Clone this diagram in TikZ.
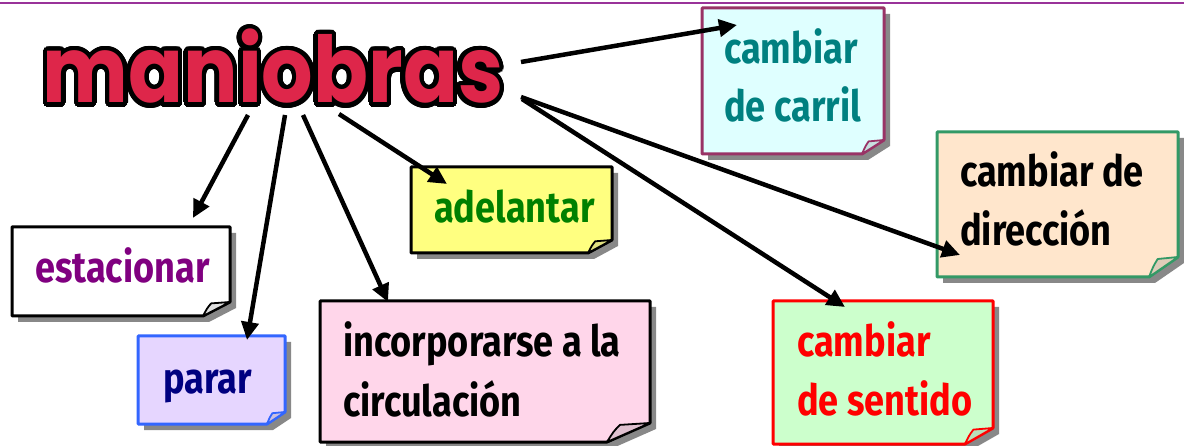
\documentclass[tikz,border=0pt]{standalone}
\usepackage{fontspec}
\usepackage{contour}
\usetikzlibrary{arrows.meta}
\newfontfamily\notefont{Fira Sans}[FakeStretch=0.84]
\newfontfamily\titlefont{Poppins}[FakeStretch=0.88]
\definecolor{topline}{HTML}{993399}
\definecolor{titlered}{HTML}{DE264A}
\definecolor{shadowgray}{HTML}{888888}
\definecolor{fcarril}{HTML}{DFFFFF}\definecolor{bcarril}{HTML}{993366}\definecolor{tcarril}{HTML}{008080}
\definecolor{fparar}{HTML}{E6D6FF}\definecolor{bparar}{HTML}{3366FF}\definecolor{tparar}{HTML}{000080}
\definecolor{fadel}{HTML}{FFFF80}\definecolor{tadel}{HTML}{008000}
\definecolor{finc}{HTML}{FFD6EA}
\definecolor{fdir}{HTML}{FFE6CC}\definecolor{bdir}{HTML}{339966}
\definecolor{fsen}{HTML}{CCFFCC}\definecolor{bsen}{HTML}{FF0000}
\definecolor{testa}{HTML}{800080}
% x1 y1 x2 y2 ch cv fill border
\newcommand\notebox[8]{%
  \fill[shadowgray] (#1+6,#2+6) -- (#3+6,#2+6) -- (#3+6,#4+6-#6) -- (#3+6-#5,#4+6) -- (#1+6,#4+6) -- cycle;
  \draw[line width=3pt,draw=#8,fill=#7,line join=round] (#1,#2) -- (#3,#2) -- (#3,#4-#6) -- (#3-#5,#4) -- (#1,#4) -- cycle;
  \draw[line width=1.8pt,draw=#8,fill=#7!75!gray,line join=round] (#3-#5,#4) .. controls (#3-#5+0.15*#5,#4-0.55*#6) .. (#3-0.7*#5,#4-0.9*#6) .. controls (#3-0.35*#5,#4-0.95*#6) .. (#3,#4-#6) -- cycle;
}
\tikzset{
  notetext/.style={anchor=base west,inner sep=0pt,font=\notefont\bfseries\fontsize{43}{50}\selectfont},
  conn/.style={line width=4.5pt,-{Triangle[length=18pt,width=17pt]}},
}
\begin{document}
\begin{tikzpicture}[x=1pt,y=-1pt]
\useasboundingbox (0,0) rectangle (1184,446);
\fill[white] (0,0) rectangle (1184,446);
\draw[topline,line width=2.2pt] (0,3) -- (1184,3);
% boxes
\notebox{702}{8}{884}{154}{22}{14}{fcarril}{bcarril}
\notebox{12}{227}{230}{316}{27}{14}{white}{black}
\notebox{138}{336}{285}{424}{18}{12}{fparar}{bparar}
\notebox{411}{167}{612}{253}{24}{13}{fadel}{black}
\notebox{320}{301}{650}{442}{43}{19}{finc}{black}
\notebox{937}{132}{1178}{277}{29}{20}{fdir}{bdir}
\notebox{773}{301}{993}{444}{28}{16}{fsen}{bsen}
% title
\contourlength{4.5pt}\contournumber{32}
\node[anchor=base,inner sep=0pt,text=titlered,font=\titlefont\bfseries\fontsize{92}{96}\selectfont] (title) at (273,103) {\contour{black}{maniobras}};
% texts
\node[notetext,text=tcarril] (carril1) at (724,64) {cambiar};
\node[notetext,text=tcarril] (carril2) at (724,122) {de carril};
\node[notetext,text=testa] (estac) at (35,283) {estacionar};
\node[notetext,text=tparar] (parar) at (163,393) {parar};
\node[notetext,text=tadel] (adel) at (434,223) {adelantar};
\node[notetext,text=black] (inc1) at (343,357) {incorporarse a la};
\node[notetext,text=black] (inc2) at (343,417) {circulación};
\node[notetext,text=black] (dir1) at (960,187) {cambiar de};
\node[notetext,text=black] (dir2) at (960,246) {dirección};
\node[notetext,text=bsen] (sen1) at (797,357) {cambiar};
\node[notetext,text=bsen] (sen2) at (797,415) {de sentido};
% connector ends
\coordinate (sEst) at (248,115); \coordinate (eEst) at (193,218);
\coordinate (sPar) at (285,115); \coordinate (ePar) at (247,340);
\coordinate (sInc) at (303,115); \coordinate (eInc) at (388,302);
\coordinate (sAde) at (339,114); \coordinate (eAde) at (447,184);
\coordinate (sCar) at (521,62);  \coordinate (eCar) at (737,25);
\coordinate (sDir) at (521,97);  \coordinate (eDir) at (960,255);
\coordinate (sSen) at (522,99);  \coordinate (eSen) at (845,307);
\draw[conn] (sEst) -- (eEst);
\draw[conn] (sPar) -- (ePar);
\draw[conn] (sInc) -- (eInc);
\draw[conn] (sAde) -- (eAde);
\draw[conn] (sCar) -- (eCar);
\draw[conn] (sDir) -- (eDir);
\draw[conn] (sSen) -- (eSen);
\end{tikzpicture}
\end{document}
